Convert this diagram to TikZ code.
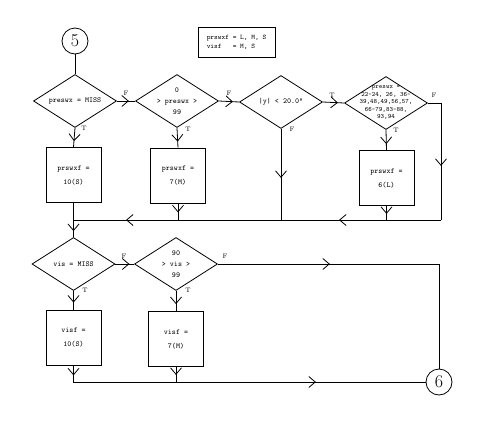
\documentclass[tikz,border=0pt]{standalone}
\usetikzlibrary{shapes.geometric,arrows.meta,decorations.markings}
\begin{document}
\begin{tikzpicture}[x=1pt,y=-1pt,line width=0.8pt,
  dec/.style={diamond,draw,inner sep=0pt,minimum width=83pt,minimum height=53pt},
  dtext/.style={font=\fontsize{7.6}{11}\selectfont\ttfamily,align=center,inner sep=0pt},
  proc/.style={rectangle,draw,inner sep=0pt,minimum width=55pt,minimum height=55pt,align=center,font=\fontsize{7.6}{14}\selectfont\ttfamily},
  conn/.style={circle,draw,minimum size=26pt,inner sep=0pt,font=\fontsize{18}{18}\selectfont},
  lbl/.style={font=\fontsize{6.5}{6.5}\selectfont,inner sep=0pt},
  arr/.style={postaction={decorate,decoration={markings,mark=at position #1 with {\arrow{Straight Barb[length=6.5pt,width=11pt,line width=0.8pt]}}}}}
]
\useasboundingbox (0,0) rectangle (491,445);

% connectors (circles)
\node[conn] (c5) at (75,41) {5};
\node[conn] (c6) at (439,382) {6};

% legend
\node[draw,minimum width=77pt,minimum height=30pt,inner sep=0pt,align=left,font=\fontsize{7}{9}\selectfont\ttfamily] (leg) at (236.5,42) {prswxf = L, M, S\\visf\ \ \ = M, S};

% first row decisions
\node[dec,label={[dtext]center:preswx = MISS}] (d1) at (75,101) {};
\node[dec,label={[dtext]center:0\\> preswx >\\99}] (d2) at (177,101) {};
\node[dec,label={[dtext]center:|y| < 20.0\textdegree}] (d3) at (281,102) {};
\node[dec,label={[dtext,font=\fontsize{6.6}{7.5}\selectfont\ttfamily]center:preswx =\\22-24, 26, 36-\\39,48,49,56,57,\\66-79,83-88,\\93,94}] (d4) at (386,103) {};

% first row processes
\node[proc] (b1) at (73.5,175) {prswxf =\\10(S)};
\node[proc] (b2) at (178,175.5) {prswxf =\\7(M)};
\node[proc] (b3) at (386.5,178) {prswxf =\\6(L)};

% merge coordinates
\coordinate (mL) at (73.5,220);
\coordinate (mR) at (441,220);
\coordinate (d4r) at (441,103);
\coordinate (m3) at (281,220);
\coordinate (m2) at (178,220);
\coordinate (m4) at (386.5,220);

% second row
\node[dec,label={[dtext]center:vis = MISS}] (d5) at (73.5,264) {};
\node[dec,label={[dtext]center:90\\> vis >\\99}] (d6) at (176,264) {};
\node[proc] (b5) at (73.5,337.5) {visf =\\10(S)};
\node[proc] (b6) at (176,339) {visf =\\7(M)};

\coordinate (d6r) at (439,264);
\coordinate (bL) at (73.5,382);
\coordinate (b6b) at (176,382);

% lines row 1
\draw (c5) -- (d1.north);
\draw[arr=12pt] (d1.east) -- (d2.west);
\draw[arr=-6pt] (d1.south) -- (b1.north);
\draw[arr=14pt] (d2.east) -- (d3.west);
\draw[arr=-6pt] (d2.south) -- (b2.north);
\draw[arr=15pt] (d3.east) -- (d4.west);
\draw[arr=49pt] (d3.south) -- (m3);
\draw[arr=76pt] (d4.east) -- (d4r) -- (mR);
\draw[arr=-6pt] (d4.south) -- (b3.north);
\draw[arr=8pt] (b3.south) -- (m4);
\draw[arr=9pt] (b2.south) -- (m2);
\draw[arr=102pt,arr=315pt] (mR) -- (mL);
\draw (b1.south) -- (mL);
\draw[arr=-6pt] (mL) -- (d5.north);

% lines row 2
\draw[arr=14pt] (d5.east) -- (d6.west);
\draw[arr=-7pt] (d5.south) -- (b5.north);
\draw[arr=-7pt] (d6.south) -- (b6.north);
\draw[arr=112pt] (d6.east) -- (d6r) -- (c6.north);
\draw[arr=10pt,arr=259pt] (b5.south) -- (bL) -- (c6.west);
\draw[arr=8pt] (b6.south) -- (b6b);

% T / F labels
\node[lbl] (f1) at (126,93) {F};
\node[lbl] (t1) at (84,128) {T};
\node[lbl] (f2) at (229,93) {F};
\node[lbl] (t2) at (188,129) {T};
\node[lbl] (t3) at (332,95) {T};
\node[lbl] (f3) at (292,129) {F};
\node[lbl] (f4) at (434,95) {F};
\node[lbl] (t4) at (396,130) {T};
\node[lbl] (f5) at (124,256) {F};
\node[lbl] (t5) at (85,290) {T};
\node[lbl] (f6) at (225,256) {F};
\node[lbl] (t6) at (188,290) {T};
\end{tikzpicture}
\end{document}
